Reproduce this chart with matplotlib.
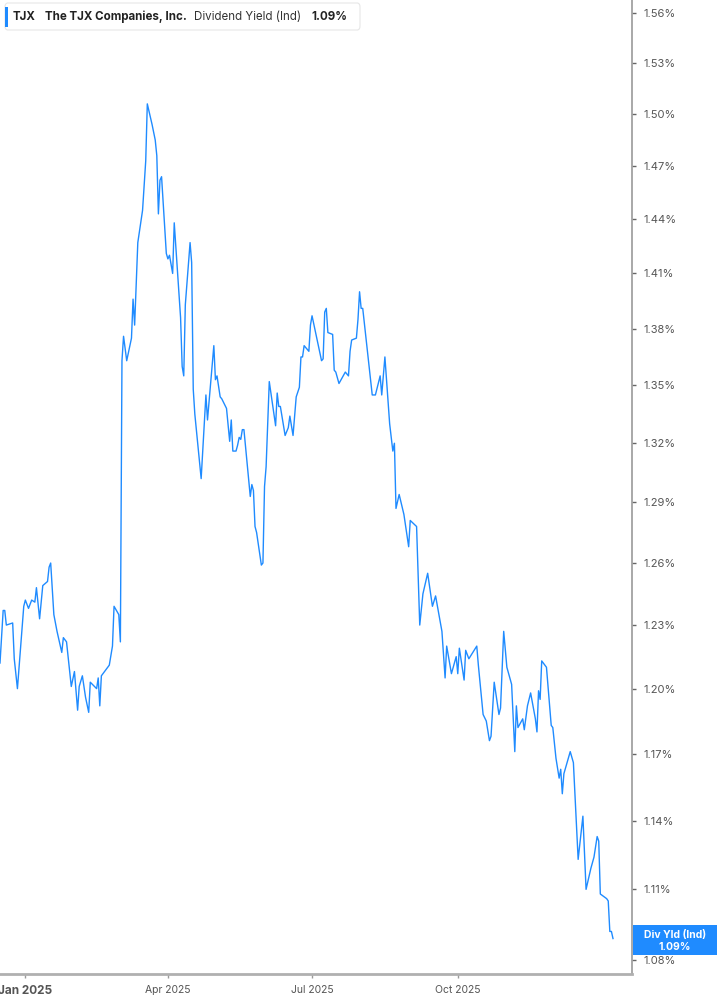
import numpy as np
import pandas as pd
import matplotlib
matplotlib.use("Agg")
import matplotlib.pyplot as plt
import matplotlib.ticker as mticker
import matplotlib.dates as mdates
from matplotlib.patches import FancyBboxPatch, Rectangle

plt.rcParams['font.family'] = ['Inter', 'DejaVu Sans']

# TJX dividend yield (indicated), %
dates = [
    "2024-12-16", "2024-12-18", "2024-12-19", "2024-12-20", "2024-12-24", "2024-12-25", "2024-12-27", "2024-12-31", "2025-01-01", "2025-01-03",
    "2025-01-05", "2025-01-07", "2025-01-08", "2025-01-10", "2025-01-12", "2025-01-15", "2025-01-16", "2025-01-17", "2025-01-19", "2025-01-21",
    "2025-01-24", "2025-01-25", "2025-01-27", "2025-01-30", "2025-02-01", "2025-02-03", "2025-02-04", "2025-02-06", "2025-02-08", "2025-02-10",
    "2025-02-11", "2025-02-15", "2025-02-16", "2025-02-17", "2025-02-18", "2025-02-23", "2025-02-25", "2025-02-26", "2025-03-01", "2025-03-02",
    "2025-03-03", "2025-03-04", "2025-03-06", "2025-03-09", "2025-03-10", "2025-03-11", "2025-03-13", "2025-03-16", "2025-03-18", "2025-03-19",
    "2025-03-22", "2025-03-24", "2025-03-25", "2025-03-26", "2025-03-27", "2025-03-28", "2025-03-31", "2025-04-01", "2025-04-02", "2025-04-04",
    "2025-04-05", "2025-04-09", "2025-04-10", "2025-04-11", "2025-04-12", "2025-04-15", "2025-04-16", "2025-04-17", "2025-04-18", "2025-04-22",
    "2025-04-25", "2025-04-26", "2025-04-30", "2025-05-01", "2025-05-02", "2025-05-04", "2025-05-05", "2025-05-08", "2025-05-10", "2025-05-11",
    "2025-05-12", "2025-05-14", "2025-05-15", "2025-05-16", "2025-05-17", "2025-05-18", "2025-05-19", "2025-05-23", "2025-05-24", "2025-05-25",
    "2025-05-26", "2025-05-27", "2025-05-30", "2025-05-31", "2025-06-01", "2025-06-02", "2025-06-04", "2025-06-08", "2025-06-09", "2025-06-10",
    "2025-06-11", "2025-06-14", "2025-06-16", "2025-06-17", "2025-06-19", "2025-06-21", "2025-06-23", "2025-06-24", "2025-06-25", "2025-06-26",
    "2025-06-29", "2025-06-30", "2025-07-01", "2025-07-07", "2025-07-08", "2025-07-09", "2025-07-10", "2025-07-11", "2025-07-14", "2025-07-15",
    "2025-07-16", "2025-07-18", "2025-07-22", "2025-07-24", "2025-07-25", "2025-07-26", "2025-07-29", "2025-07-30", "2025-07-31", "2025-08-01",
    "2025-08-02", "2025-08-08", "2025-08-10", "2025-08-13", "2025-08-14", "2025-08-16", "2025-08-19", "2025-08-21", "2025-08-22", "2025-08-23",
    "2025-08-25", "2025-08-28", "2025-08-31", "2025-09-01", "2025-09-05", "2025-09-07", "2025-09-09", "2025-09-12", "2025-09-15", "2025-09-17",
    "2025-09-21", "2025-09-23", "2025-09-24", "2025-09-27", "2025-09-30", "2025-10-01", "2025-10-02", "2025-10-05", "2025-10-06", "2025-10-08",
    "2025-10-13", "2025-10-14", "2025-10-17", "2025-10-19", "2025-10-21", "2025-10-22", "2025-10-24", "2025-10-27", "2025-10-28", "2025-10-30",
    "2025-11-01", "2025-11-04", "2025-11-06", "2025-11-07", "2025-11-08", "2025-11-11", "2025-11-12", "2025-11-14", "2025-11-16", "2025-11-19",
    "2025-11-20", "2025-11-21", "2025-11-22", "2025-11-23", "2025-11-26", "2025-11-29", "2025-11-30", "2025-12-02", "2025-12-04", "2025-12-05",
    "2025-12-06", "2025-12-07", "2025-12-11", "2025-12-13", "2025-12-16", "2025-12-19", "2025-12-21", "2025-12-24", "2025-12-26", "2025-12-28",
    "2025-12-29", "2025-12-30", "2026-01-03", "2026-01-04", "2026-01-05", "2026-01-06", "2026-01-07",
]
yld = [
    1.212, 1.237, 1.237, 1.230, 1.231, 1.214, 1.200, 1.239, 1.242, 1.238,
    1.242, 1.241, 1.248, 1.233, 1.249, 1.251, 1.258, 1.260, 1.235, 1.227,
    1.217, 1.224, 1.222, 1.201, 1.208, 1.190, 1.201, 1.206, 1.196, 1.189,
    1.203, 1.200, 1.205, 1.192, 1.206, 1.211, 1.220, 1.239, 1.235, 1.222,
    1.363, 1.376, 1.363, 1.375, 1.396, 1.382, 1.427, 1.445, 1.473, 1.506,
    1.494, 1.485, 1.476, 1.443, 1.462, 1.464, 1.421, 1.418, 1.420, 1.410,
    1.438, 1.386, 1.360, 1.355, 1.393, 1.427, 1.416, 1.348, 1.335, 1.302,
    1.345, 1.332, 1.371, 1.353, 1.355, 1.344, 1.343, 1.338, 1.321, 1.332,
    1.316, 1.316, 1.319, 1.323, 1.322, 1.327, 1.327, 1.293, 1.299, 1.296,
    1.278, 1.275, 1.259, 1.260, 1.298, 1.308, 1.352, 1.329, 1.346, 1.339,
    1.339, 1.324, 1.328, 1.334, 1.324, 1.344, 1.349, 1.365, 1.365, 1.371,
    1.368, 1.382, 1.387, 1.363, 1.364, 1.389, 1.391, 1.378, 1.377, 1.358,
    1.357, 1.351, 1.357, 1.355, 1.368, 1.374, 1.375, 1.385, 1.400, 1.391,
    1.391, 1.345, 1.345, 1.355, 1.345, 1.365, 1.330, 1.316, 1.320, 1.287,
    1.294, 1.284, 1.268, 1.281, 1.278, 1.230, 1.245, 1.255, 1.239, 1.244,
    1.227, 1.205, 1.220, 1.207, 1.215, 1.207, 1.219, 1.204, 1.218, 1.214,
    1.220, 1.211, 1.188, 1.185, 1.176, 1.178, 1.203, 1.188, 1.191, 1.227,
    1.210, 1.202, 1.171, 1.192, 1.182, 1.186, 1.181, 1.192, 1.198, 1.186,
    1.180, 1.199, 1.195, 1.213, 1.210, 1.183, 1.182, 1.168, 1.159, 1.163,
    1.152, 1.161, 1.171, 1.166, 1.123, 1.142, 1.110, 1.119, 1.124, 1.133,
    1.131, 1.108, 1.106, 1.105, 1.092, 1.092, 1.089,
]

ytick_vals = [1.08, 1.11, 1.14, 1.17, 1.20, 1.23, 1.26, 1.29, 1.32, 1.35,
              1.38, 1.41, 1.44, 1.47, 1.50, 1.53, 1.56]
xtick_dates = ["2025-01-01", "2025-04-01", "2025-07-01", "2025-10-01"]
xtick_labels = ["Jan 2025", "Apr 2025", "Jul 2025", "Oct 2025"]

blue = '#1f8bff'
grey = '#9a9a9a'
txt = '#555555'

W, H = 717, 1005
fig = plt.figure(figsize=(W / 100, H / 100), dpi=100)
ax = fig.add_axes([0, 31 / H, 632 / W, 1 - 31 / H])

x = pd.to_datetime(dates)
ax.plot(x, yld, color=blue, lw=1.0)

ax.set_yscale('log')
ax.set_ylim(1.0741, 1.568)
ax.set_xlim(pd.Timestamp("2024-12-16"), pd.Timestamp("2026-01-19"))

ax.yaxis.tick_right()
ax.yaxis.set_major_locator(mticker.FixedLocator(ytick_vals))
ax.yaxis.set_major_formatter(mticker.FixedFormatter(["%.2f%%" % v for v in ytick_vals]))
ax.yaxis.set_minor_locator(mticker.NullLocator())
ax.yaxis.set_minor_formatter(mticker.NullFormatter())
ax.tick_params(axis='y', which='major', length=3, width=1, color='#666666',
               labelsize=8, labelcolor=txt, pad=5)

ax.set_xticks(pd.to_datetime(xtick_dates))
ax.set_xticklabels(xtick_labels)
ax.tick_params(axis='x', length=3, width=1, color=grey, labelsize=7.5,
               labelcolor=txt, pad=5)
ax.get_xticklabels()[0].set_fontweight('bold')
ax.get_xticklabels()[0].set_fontsize(8.5)

for s in ['left', 'top']:
    ax.spines[s].set_visible(False)
ax.spines['right'].set_color(grey)
ax.spines['right'].set_linewidth(1.2)
ax.spines['bottom'].set_color('#b0b0b0')
ax.spines['bottom'].set_linewidth(2)


def px(xp, yp):
    return xp / W, 1 - yp / H


# legend box top-left
x0, y0 = px(5, 30)
box = FancyBboxPatch((x0, y0), 355 / W, 27 / H, boxstyle="round,pad=0,rounding_size=0.004",
                     transform=fig.transFigure, facecolor='white', edgecolor='#e6e6e6', lw=0.8)
fig.patches.append(box)
bx, by = px(5, 27)
fig.patches.append(Rectangle((bx, by), 2.5 / W, 20 / H, transform=fig.transFigure,
                             facecolor=blue, edgecolor='none'))
ty = 1 - 16.5 / H
fig.text(13 / W, ty, "TJX", fontsize=8.3, fontweight='bold', color='#222222', va='center')
fig.text(45 / W, ty, "The TJX Companies, Inc.", fontsize=8.3, fontweight='bold', color='#222222', va='center')
fig.text(194 / W, ty, "Dividend Yield (Ind)", fontsize=8.3, color='#333333', va='center')
fig.text(311 / W, ty, "1.09%", fontsize=8.3, fontweight='bold', color='#222222', va='center')

# last value label
lx, ly = px(633, 955)
fig.patches.append(Rectangle((lx, ly), (W - 633) / W, 30 / H, transform=fig.transFigure,
                             facecolor=blue, edgecolor='none'))
fig.text(675 / W, 1 - 934.5 / H, "Div Yld (Ind)", fontsize=7.5, fontweight='bold', color='white',
         ha='center', va='center')
fig.text(675 / W, 1 - 946.5 / H, "1.09%", fontsize=7.5, fontweight='bold', color='white',
         ha='center', va='center')

fig.savefig("out.png", dpi=100)
